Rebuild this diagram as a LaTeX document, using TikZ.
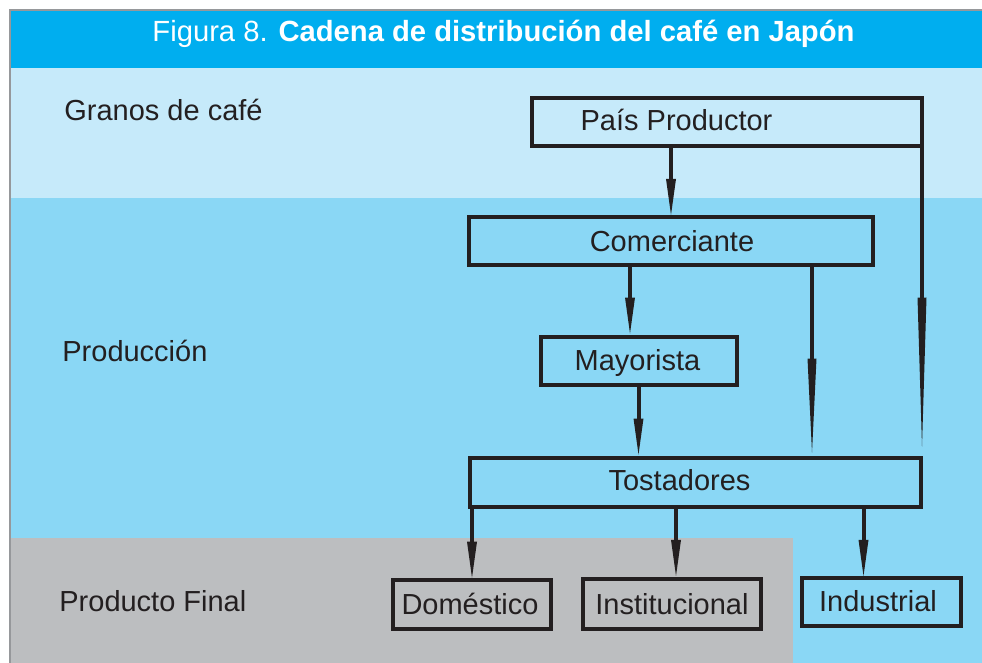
\documentclass[tikz,border=0pt]{standalone}
\usepackage{fontspec}
\setmainfont{Liberation Sans}
\usetikzlibrary{arrows.meta,calc}

\definecolor{titleblue}{RGB}{0,174,239}
\definecolor{paleblue}{RGB}{198,234,250}
\definecolor{midblue}{RGB}{138,215,245}
\definecolor{bandgray}{RGB}{188,190,192}
\definecolor{ink}{RGB}{35,31,32}
\definecolor{framegray}{RGB}{150,152,155}

\tikzset{every picture/.style={line width=0.75pt}}
\tikzset{
  box/.style={draw=ink, line width=4pt, outer sep=0pt, inner sep=0pt},
  boxtext/.style={text=ink, anchor=base, inner sep=0pt, font=\fontsize{29}{31}\selectfont},
  rowtext/.style={text=ink, anchor=base west, inner sep=0pt, font=\fontsize{29}{31}\selectfont},
  arr/.style={draw=ink, line width=4pt, shorten >=2pt, -{Triangle[length=36pt,width=10pt,line width=0pt]}},
  longarr/.style={draw=ink, line width=3.6pt, -{Triangle[length=#1,width=9pt,line width=0pt]}},
}

\begin{document}
\begin{tikzpicture}[x=1pt,y=1pt,yscale=-1]
	\useasboundingbox (0,0) rectangle (982,663);

	%Shape: Rectangle (bands)
	\fill [white] (0,0) rectangle (982,663);
	\fill [titleblue] (10,10) rectangle (982,68);
	\fill [paleblue] (10,68) rectangle (982,198);
	\fill [midblue] (10,198) rectangle (982,663);
	\fill [bandgray] (10,538) rectangle (793,663);
	%Straight Lines (frame)
	\draw [framegray, line width=1.6pt] (10,663) -- (10,10) -- (982,10);

	% Text Node
	\node [text=white, font=\fontsize{29.2}{31}\selectfont, anchor=base, inner sep=0pt] (title) at (503.5,42) {Figura 8. \textbf{Cadena de distribución del café en Japón}};

	% Text Node
	\node [rowtext] (granos) at (64,121) {Granos de café};
	% Text Node
	\node [rowtext] (produccion) at (62,361) {Producción};
	% Text Node
	\node [rowtext] (final) at (59,611) {Producto Final};

	%Shape: Rectangle
	\node [box, minimum width=390pt, minimum height=48pt] (pais) at (727,122) {};
	\node [box, minimum width=404pt, minimum height=48.5pt] (com) at (671,241.2) {};
	\node [box, minimum width=196pt, minimum height=48pt] (may) at (638.5,360.5) {};
	\node [box, minimum width=451pt, minimum height=49pt] (tos) at (695.5,482) {};
	\node [box, minimum width=158pt, minimum height=49pt] (dom) at (472,604.2) {};
	\node [box, minimum width=178pt, minimum height=49.5pt] (ins) at (672,604.2) {};
	\node [box, minimum width=159pt, minimum height=48.5pt] (ind) at (881.5,602.2) {};

	% Text Node
	\node [boxtext] (paist) at (676.5,131) {País Productor};
	% Text Node
	\node [boxtext] (comt) at (672,251.5) {Comerciante};
	% Text Node
	\node [boxtext] (mayt) at (637.5,370) {Mayorista};
	% Text Node
	\node [boxtext] (tost) at (679.5,490.3) {Tostadores};
	% Text Node
	\node [boxtext] (domt) at (470,614) {Doméstico};
	% Text Node
	\node [boxtext] (inst) at (672,614.3) {Institucional};
	% Text Node
	\node [boxtext] (indt) at (878,611.7) {Industrial};

	%Straight Lines
	\draw [arr] (pais.south -| com.north) -- (com.north);
	\draw [arr, shorten >=3pt] ($(com.south -| may.north)+(-8.5,0)$) -- ($(may.north)+(-8.5,0)$);
	\draw [arr, shorten >=3pt] (may.south) -- (may.south |- tos.north);
	\draw [longarr=94pt, shorten >=5pt] ($(com.south east)+(-61,0)$) -- ($(com.south east |- tos.north)+(-61,0)$);
	\draw [longarr=149pt, shorten >=11pt] (pais.south east) -- (pais.south east |- tos.north);
	\draw [arr] (tos.south -| dom.north) -- (dom.north);
	\draw [arr, shorten >=3.5pt] ($(tos.south -| ins.north)+(4,0)$) -- ($(ins.north)+(4,0)$);
	\draw [arr] ($(tos.south -| ind.north)+(-18,0)$) -- ($(ind.north)+(-18,0)$);

\end{tikzpicture}
\end{document}
